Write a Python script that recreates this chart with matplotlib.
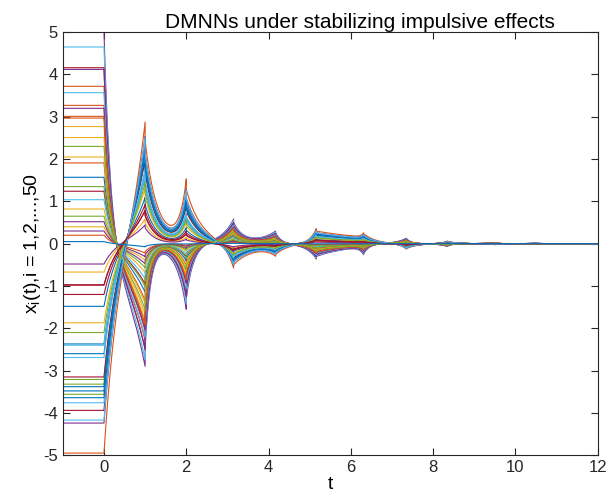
"""
Trajectories of a 50-neuron DMNN under stabilizing impulses.
"""

import numpy as np
import matplotlib
matplotlib.use("Agg")
import matplotlib.pyplot as plt

plt.rcParams["font.family"] = ["Liberation Sans", "DejaVu Sans"]
plt.rcParams["axes.unicode_minus"] = False

# initial functions on [-1, 0], one per neuron
x0 = [
    1.57, 3.72, 2.77, 5.00, -3.21, 4.65, 4.16,
    -1.48, 3.27, 2.51, 4.12, -3.32, 3.57, 1.24,
    -2.37, 3.01, 0.82, 3.20, -3.56, 1.04, -0.97,
    -2.60, 2.97, 0.40, 0.52, 1.35, -2.40, -3.15,
    -3.38, 1.91, -0.67, 0.30, 0.65, -2.69, -3.94,
    -3.48, 0.20, -1.87, -0.48, -2.10, -3.76, -1.20,
    -3.64, -4.95, 2.05, -4.24, 2.30, -4.17, -0.98,
    0.05,
]

# impulse instants
t_imp = [0.0, 1.0, 2.0, 3.15, 4.17, 5.16, 6.31, 7.35, 8.35, 9.5, 10.5, 12.0]

# trajectory starting at x0 = -5: value right after each impulse
# and value right before the next one
seg_start = [-5.0, 2.45, 1.30, -0.50, -0.26, 0.30, 0.24, -0.12, 0.055, -0.02, 0.008]
seg_end = [2.90, 1.55, -0.58, -0.30, 0.36, 0.26, -0.13, 0.065, -0.025, 0.012, 0.0]
# decay / growth rates inside each interval
seg_decay = [4.0, 5.0, 4.0, 3.0, 5.0, 0.8, 5.0, 6.0, 6.0, 6.0, 6.0]
seg_growth = [2.0, 5.0, 4.0, 3.0, 5.0, 12.0, 5.0, 6.0, 6.0, 6.0, 6.0]
# how strongly small and large trajectories differ at each instant
amp_power = [1.0, 0.8, 1.15, 0.85, 1.1, 0.9, 1.1, 0.9, 1.0, 1.0, 1.0, 1.0]

matlab_colors = ["#0072BD", "#D95319", "#EDB120", "#7E2F8E",
                 "#77AC30", "#4DBEEE", "#A2142F"]


def trajectory(x_init):
    w = -x_init / 5.0
    # neurons starting above zero react faster than those below
    speed = 1.45 ** (np.sign(x_init) * abs(x_init / 5.0) ** 0.3)
    ts = [np.array([-1.0, 0.0])]
    xs = [np.array([x_init, x_init])]
    for k in range(len(seg_start)):
        ta, tb = t_imp[k], t_imp[k + 1]
        L = tb - ta
        a = seg_decay[k] * speed
        b = seg_growth[k] / speed ** 0.5
        S = seg_start[k] * np.sign(w) * abs(w) ** amp_power[k]
        E = seg_end[k] * np.sign(w) * abs(w) ** amp_power[k + 1]
        M = np.array([[1.0, np.exp(-b * L)], [np.exp(-a * L), 1.0]])
        A, B = np.linalg.solve(M, [S, E])
        s = np.linspace(0, L, 200)
        ts.append(ta + s)
        xs.append(A * np.exp(-a * s) + B * np.exp(b * (s - L)))
    return np.concatenate(ts), np.concatenate(xs)


fig = plt.figure(figsize=(6.10, 5.03), dpi=100)
ax = fig.add_axes([0.103, 0.095, 0.877, 0.841])

for i, xi in enumerate(x0):
    t, x = trajectory(xi)
    ax.plot(t, x, color=matlab_colors[i % 7], linewidth=0.8)

ax.set_xlim(-1, 12)
ax.set_ylim(-5, 5)
ax.set_xticks(range(0, 13, 2))
ax.set_yticks(range(-5, 6))
ax.tick_params(direction="in", top=True, right=True, length=5,
               labelsize=12, colors="#262626", width=0.8)
for sp in ax.spines.values():
    sp.set_color("#262626")
    sp.set_linewidth(0.8)

ax.set_xlabel("t", fontsize=14, labelpad=1)
ax.set_ylabel("x$_\\mathregular{i}$(t),i = 1,2,...,50", fontsize=14, labelpad=0)
ax.set_title("DMNNs under stabilizing impulsive effects", fontsize=15,
             x=0.555, pad=3)

fig.savefig("out.png", dpi=100)
